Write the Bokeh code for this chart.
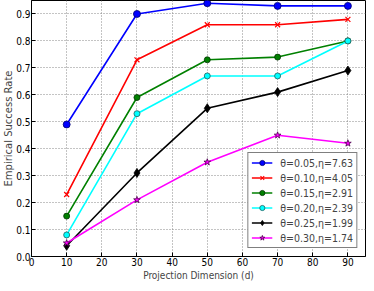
from bokeh.plotting import figure
from bokeh.models import Range1d, FixedTicker, PrintfTickFormatter
from bokeh.embed import file_html
from bokeh.resources import INLINE

dims = [10, 30, 50, 70, 90]
labels = ["θ=0.05,η=7.63", "θ=0.10,η=4.05", "θ=0.15,η=2.91",
          "θ=0.20,η=2.39", "θ=0.25,η=1.99", "θ=0.30,η=1.74"]
rate_005 = [0.49, 0.90, 0.94, 0.93, 0.93]
rate_010 = [0.23, 0.73, 0.86, 0.86, 0.88]
rate_015 = [0.15, 0.59, 0.73, 0.74, 0.80]
rate_020 = [0.08, 0.53, 0.67, 0.67, 0.80]
rate_025 = [0.04, 0.31, 0.55, 0.61, 0.69]
rate_030 = [0.05, 0.21, 0.35, 0.45, 0.42]
x_ticks = [0, 10, 20, 30, 40, 50, 60, 70, 80, 90]
y_ticks = [0.0, 0.1, 0.2, 0.3, 0.4, 0.5, 0.6, 0.7, 0.8, 0.9]

series = [rate_005, rate_010, rate_015, rate_020, rate_025, rate_030]
colors = ["#0000ff", "#ff0000", "#008000", "#00ffff", "#000000", "#ff00ff"]
markers = ["circle", "x", "circle", "circle", "diamond", "star"]
msizes = [7, 7, 6, 6, 9, 7]
edges = ["#00006e", "#ff0000", "#003300", "#1f5f5f", "#000000", "#4b004b"]

FONT = "DejaVu Sans"
NARROW = "DejaVu Sans Condensed, DejaVu Sans"

p = figure(width=366, height=283, output_backend="svg", toolbar_location=None,
           x_range=Range1d(0, 95), y_range=Range1d(0, 0.95),
           min_border_top=0, min_border_right=1, min_border_left=0, min_border_bottom=0)
p.background_fill_color = "white"
p.border_fill_color = "white"
p.outline_line_color = "black"
p.outline_line_width = 1

for s, c, m, ms, e, lab in zip(series, colors, markers, msizes, edges, labels):
    p.line(dims, s, line_color=c, line_width=1.6, legend_label=lab)
    if m == "x":
        p.scatter(dims, s, marker=m, size=ms, line_color=c, line_width=1.2, legend_label=lab)
    else:
        p.scatter(dims, s, marker=m, size=ms, fill_color=c, line_color=e, line_width=0.8,
                  legend_label=lab)

for ax in (p.xaxis, p.yaxis):
    ax.major_label_text_font = NARROW
    ax.major_label_text_font_size = "10px"
    ax.major_label_text_color = "black"
    ax.major_label_text_line_height = 0.9
    ax.axis_label_text_font_style = "normal"
    ax.axis_label_text_line_height = 0.9
    ax.axis_line_color = "black"
    ax.major_tick_in = 4
    ax.major_tick_out = 0
    ax.minor_tick_line_color = None
    ax.major_tick_line_color = "black"
    ax.major_label_standoff = 1

p.xaxis.axis_label_text_font = NARROW
p.xaxis.axis_label_text_font_size = "10px"
p.yaxis.axis_label_text_font = FONT
p.yaxis.axis_label_text_font_size = "10px"

p.xaxis.ticker = FixedTicker(ticks=x_ticks)
p.yaxis.ticker = FixedTicker(ticks=y_ticks)
p.yaxis.formatter = PrintfTickFormatter(format="%.1f")
p.xaxis.axis_label = "Projection Dimension (d)"
p.yaxis.axis_label = "Empirical Success Rate"
p.xaxis.axis_label_standoff = 1
p.yaxis.axis_label_standoff = -1

p.grid.grid_line_color = "#888888"
p.grid.grid_line_dash = "1 2"
p.grid.grid_line_width = 1
p.xgrid.ticker = FixedTicker(ticks=x_ticks)
p.ygrid.ticker = FixedTicker(ticks=y_ticks)

lg = p.legend[0]
lg.location = "bottom_right"
lg.margin = 8
lg.padding = 3
lg.spacing = 2
lg.label_text_font = NARROW
lg.label_text_font_size = "10.5px"
lg.label_height = 13
lg.glyph_height = 13
lg.glyph_width = 21
lg.label_standoff = 8
lg.border_line_color = "black"
lg.border_line_width = 1
lg.background_fill_alpha = 1

open("out.html", "w").write(file_html(p, INLINE))
